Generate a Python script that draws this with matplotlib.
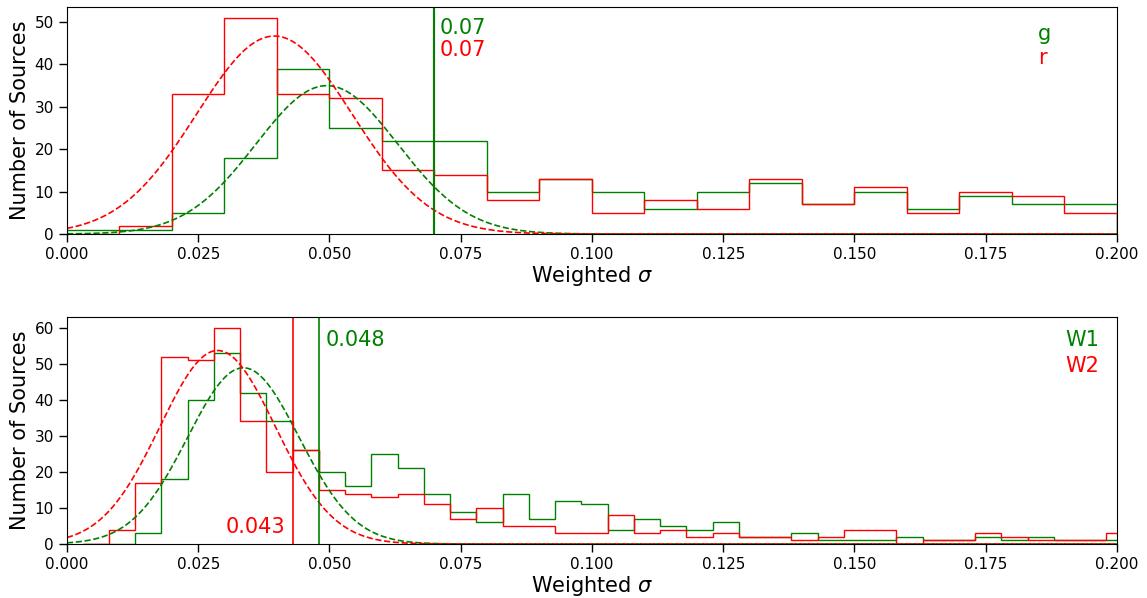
import numpy as np
import matplotlib
matplotlib.use('Agg')
import matplotlib.pyplot as plt

# optical bands (g, r): 0.01 wide bins
opt_edges = np.round(np.arange(0.0, 0.2001, 0.01), 3)
g_counts = [1, 1, 5, 18, 39, 25, 22, 22, 10, 13, 10, 6, 10, 12, 7, 10, 6, 9, 7, 7]
r_counts = [0, 2, 33, 51, 33, 32, 15, 14, 8, 13, 5, 8, 6, 13, 7, 11, 5, 10, 9, 5]
g_fit = (35.0, 0.0495, 0.0135)   # amplitude, mean, sigma
r_fit = (46.7, 0.0395, 0.0148)
opt_cut = 0.07

# WISE bands (W1, W2): 0.005 wide bins
ir_edges = np.round(0.003 + 0.005 * np.arange(41), 4)
w1_counts = [0, 0, 3, 18, 40, 53, 42, 34, 26, 20, 16, 25, 21, 14, 9, 6, 14, 7, 12, 11,
             4, 7, 5, 4, 6, 2, 2, 3, 1, 1, 1, 2, 1, 1, 2, 1, 2, 1, 1, 1]
w2_counts = [0, 4, 17, 52, 51, 60, 34, 20, 26, 15, 14, 13, 14, 11, 7, 10, 5, 5, 3, 3,
             8, 3, 4, 2, 3, 2, 2, 1, 2, 4, 4, 0, 1, 1, 3, 2, 1, 1, 1, 3]
w1_fit = (48.9, 0.0336, 0.0106)
w2_fit = (53.7, 0.0287, 0.0110)
w1_cut = 0.048
w2_cut = 0.043


def gauss(x, a, mu, sig):
  return a * np.exp(-(x - mu) ** 2 / (2 * sig ** 2))


def style_axis(ax, ymax):
  ax.set_xlim(0, 0.2)
  ax.set_ylim(0, ymax * 1.05)
  ax.set_xlabel(r'Weighted $\sigma$', fontsize=15, labelpad=1)
  ax.set_ylabel('Number of Sources', fontsize=15, labelpad=3)
  ax.tick_params(direction='out', length=6, width=1, labelsize=11)
  ax.xaxis.set_major_formatter(matplotlib.ticker.FormatStrFormatter('%.3f'))


fig = plt.figure(figsize=(11.47, 5.98), dpi=100)
ax1 = fig.add_axes([0.0584, 0.6087, 0.9154, 0.3796])
ax2 = fig.add_axes([0.0584, 0.0903, 0.9154, 0.3796])

xs = np.linspace(0, 0.2, 600)

# top panel
ax1.stairs(g_counts, opt_edges, color='green', lw=1)
ax1.stairs(r_counts, opt_edges, color='red', lw=1)
ax1.plot(xs, gauss(xs, *g_fit), '--', color='green', lw=1.2)
ax1.plot(xs, gauss(xs, *r_fit), '--', color='red', lw=1.2)
ax1.axvline(opt_cut, color='red', lw=1.5)
ax1.axvline(opt_cut, color='green', lw=1.5)
ax1.text(0.0710, 47.2, '%.2f' % opt_cut, color='green', fontsize=15)
ax1.text(0.0710, 42.1, '%.2f' % opt_cut, color='red', fontsize=15)
ax1.text(0.185, 45.8, 'g', color='green', fontsize=15)
ax1.text(0.185, 40.1, 'r', color='red', fontsize=15)
style_axis(ax1, max(max(g_counts), max(r_counts)))

# bottom panel
ax2.stairs(w1_counts, ir_edges, color='green', lw=1)
ax2.stairs(w2_counts, ir_edges, color='red', lw=1)
ax2.plot(xs, gauss(xs, *w1_fit), '--', color='green', lw=1.2)
ax2.plot(xs, gauss(xs, *w2_fit), '--', color='red', lw=1.2)
ax2.axvline(w2_cut, color='red', lw=1.2)
ax2.axvline(w1_cut, color='green', lw=1.2)
ax2.text(0.0493, 54.9, '%.3f' % w1_cut, color='green', fontsize=15)
ax2.text(0.0303, 3.05, '%.3f' % w2_cut, color='red', fontsize=15)
ax2.text(0.1901, 54.9, 'W1', color='green', fontsize=15)
ax2.text(0.1901, 47.8, 'W2', color='red', fontsize=15)
style_axis(ax2, max(max(w1_counts), max(w2_counts)))

fig.savefig('out.png', dpi=100)
